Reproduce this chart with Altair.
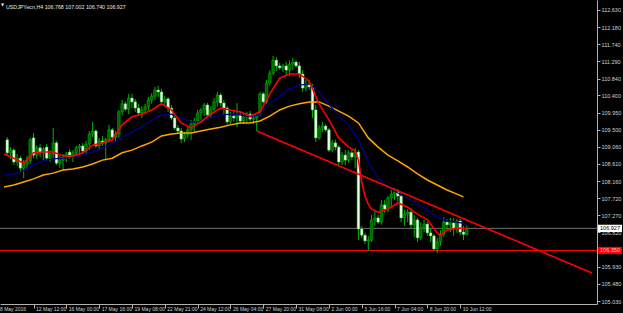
import json
import altair as alt
import pandas as pd

# ---------------- data ----------------
symbol = "USDJPYecn,H4"
bar_index = list(range(-8, 133))  # H4 bars; 0 = 12 May 12:00

opens = [109.24, 108.90, 108.97, 108.66, 108.76, 108.50, 108.61, 108.69,
         109.29, 108.84, 109.03, 108.90, 109.05, 108.76, 108.87, 109.16, 108.63, 108.71,
         108.79, 108.92, 108.79, 108.90, 109.03, 109.08, 108.95, 109.13, 109.39, 109.47,
         109.08, 109.21, 109.16, 109.24, 109.50, 109.31, 109.39, 109.97, 110.18, 110.04,
         110.33, 110.23, 110.07, 109.94, 110.02, 110.10, 110.28, 110.38, 110.54, 110.49,
         110.23, 110.31, 110.07, 109.81, 109.55, 109.47, 109.26, 109.37, 109.50, 109.65,
         109.73, 109.94, 110.02, 110.15, 109.89, 110.04, 110.23, 110.41, 110.20, 110.07,
         109.71, 109.86, 109.81, 109.89, 109.73, 109.84, 109.91, 109.78, 109.81, 109.91,
         110.44, 110.23, 110.72, 110.98, 111.32, 111.17, 111.12, 111.17, 111.06, 111.22,
         111.27, 111.17, 110.96, 110.59, 110.70, 110.62, 110.02, 109.29, 109.55, 109.60,
         109.50, 108.97, 109.16, 109.05, 108.66, 108.84, 108.71, 108.90, 108.79, 108.92,
         106.91, 106.75, 106.60, 106.62, 107.15, 107.20, 107.09, 107.54, 107.43, 107.72,
         107.82, 107.88, 107.77, 107.20, 107.30, 107.35, 107.02, 107.15, 106.68, 106.96,
         107.04, 106.81, 106.73, 106.39, 106.57, 106.78, 107.09, 107.02, 107.07, 106.91,
         107.12, 106.83, 106.768]
highs = [109.31, 109.05, 109.03, 108.87, 108.82, 108.71, 108.82, 109.29,
         109.42, 109.10, 109.13, 109.05, 109.13, 108.97, 109.55, 109.21, 108.82, 108.87,
         108.92, 109.00, 108.97, 109.08, 109.13, 109.16, 109.21, 109.47, 109.71, 109.52,
         109.29, 109.34, 109.29, 109.63, 109.55, 109.47, 110.02, 110.28, 110.25, 110.44,
         110.44, 110.31, 110.18, 110.12, 110.18, 110.36, 110.46, 110.62, 110.65, 110.57,
         110.38, 110.36, 110.15, 109.86, 109.63, 109.55, 109.44, 109.60, 109.76, 109.81,
         110.02, 110.07, 110.20, 110.20, 110.12, 110.33, 110.49, 110.46, 110.28, 110.12,
         109.97, 110.02, 110.20, 109.97, 109.91, 109.97, 109.99, 109.91, 109.89, 110.49,
         110.49, 110.80, 111.06, 111.43, 111.40, 111.25, 111.22, 111.27, 111.32, 111.38,
         111.32, 111.27, 111.06, 110.80, 110.80, 110.70, 110.15, 109.63, 109.71, 109.65,
         109.55, 109.24, 109.24, 109.10, 108.92, 108.97, 108.97, 108.97, 109.03, 108.97,
         106.99, 106.81, 106.73, 107.28, 107.41, 107.28, 107.67, 107.67, 107.77, 107.93,
         107.98, 107.95, 107.85, 107.41, 107.43, 107.46, 107.28, 107.20, 107.09, 107.15,
         107.09, 106.94, 106.78, 106.68, 106.88, 107.22, 107.17, 107.20, 107.20, 107.17,
         107.17, 106.99, 107.002]
lows = [108.82, 108.74, 108.58, 108.56, 108.40, 108.24, 108.45, 108.61,
        108.76, 108.74, 108.79, 108.71, 108.71, 108.66, 108.76, 108.58, 108.50, 108.45,
        108.66, 108.74, 108.66, 108.79, 108.84, 108.87, 108.87, 108.97, 109.31, 109.03,
        108.97, 109.08, 108.71, 109.18, 109.24, 109.21, 109.29, 109.89, 109.99, 109.91,
        110.07, 109.97, 109.86, 109.81, 109.91, 109.97, 110.18, 110.28, 110.36, 110.18,
        110.12, 109.97, 109.76, 109.50, 109.39, 109.16, 109.18, 109.29, 109.24, 109.42,
        109.65, 109.76, 109.86, 109.84, 109.81, 109.94, 110.10, 110.12, 109.91, 109.63,
        109.63, 109.71, 109.57, 109.65, 109.65, 109.68, 109.71, 109.65, 109.47, 109.86,
        110.18, 110.18, 110.65, 110.93, 111.04, 111.06, 111.01, 110.93, 110.91, 111.06,
        111.12, 110.85, 110.49, 110.51, 110.54, 109.81, 109.18, 109.24, 109.44, 109.44,
        108.92, 108.92, 108.97, 108.58, 108.58, 108.58, 108.63, 108.71, 108.50, 106.62,
        106.68, 106.52, 106.34, 106.57, 106.99, 107.04, 107.02, 107.33, 107.35, 107.46,
        107.67, 107.62, 107.09, 106.99, 107.09, 106.94, 106.70, 106.57, 106.62, 106.83,
        106.73, 106.57, 106.34, 106.28, 106.47, 106.70, 106.88, 106.83, 106.73, 106.81,
        106.75, 106.62, 106.740]
closes = [108.90, 108.97, 108.66, 108.76, 108.50, 108.61, 108.69, 109.24,
          108.84, 109.03, 108.90, 109.00, 108.76, 108.87, 109.16, 108.63, 108.71, 108.79,
          108.87, 108.79, 108.90, 109.03, 109.08, 108.95, 109.13, 109.39, 109.47, 109.08,
          109.21, 109.16, 109.24, 109.50, 109.31, 109.39, 109.97, 110.18, 110.04, 110.33,
          110.23, 110.07, 109.94, 110.02, 110.10, 110.28, 110.38, 110.54, 110.49, 110.23,
          110.31, 110.07, 109.81, 109.55, 109.47, 109.26, 109.37, 109.50, 109.65, 109.73,
          109.94, 110.02, 110.15, 109.89, 110.04, 110.23, 110.41, 110.20, 110.07, 109.71,
          109.86, 109.81, 109.89, 109.73, 109.84, 109.91, 109.78, 109.81, 109.91, 110.44,
          110.23, 110.72, 110.98, 111.32, 111.17, 111.12, 111.17, 111.06, 111.22, 111.27,
          111.17, 110.96, 110.59, 110.70, 110.62, 110.02, 109.29, 109.55, 109.60, 109.50,
          108.97, 109.16, 109.05, 108.66, 108.84, 108.71, 108.90, 108.79, 108.92, 106.91,
          106.75, 106.60, 106.62, 107.15, 107.20, 107.09, 107.54, 107.43, 107.72, 107.82,
          107.88, 107.77, 107.20, 107.30, 107.35, 107.02, 107.15, 106.68, 106.96, 107.04,
          106.81, 106.73, 106.39, 106.57, 106.78, 107.09, 107.02, 107.07, 106.91, 107.12,
          106.83, 106.77, 106.927]

red_idx = [-9, -6, -3, 0, 3, 6, 9, 12, 15, 18, 21, 24, 27, 30, 33, 36, 39, 42, 45, 48,
           51, 54, 57, 60, 63, 66, 69, 72, 75, 78, 81, 84, 87, 90, 93, 96, 98, 99, 100,
           101, 102, 103, 105, 108, 111, 114, 117, 120, 123, 124, 126, 129, 132]
red_val = [108.87, 108.76, 108.63, 108.90, 108.92, 108.92, 108.82, 108.82, 108.90, 109.10,
           109.16, 109.24, 109.63, 109.84, 109.91, 110.02, 110.18, 110.02, 109.68, 109.55,
           109.71, 109.91, 110.07, 110.02, 109.97, 109.86, 109.97, 110.44, 110.85, 110.96,
           110.96, 110.77, 110.18, 109.76, 109.29, 109.05, 108.95, 108.71, 108.14,
           107.77, 107.56, 107.43, 107.35, 107.43, 107.59, 107.48, 107.30, 107.15, 106.81,
           106.75, 106.88, 106.94, 106.91]
blue_idx = [-9, -6, -3, 0, 3, 6, 9, 12, 15, 18, 21, 24, 27, 30, 33, 36, 39, 42, 45, 48,
            51, 54, 57, 60, 63, 66, 69, 72, 75, 78, 81, 84, 87, 90, 93, 96, 99, 102, 105,
            108, 111, 114, 117, 120, 123, 126, 129, 132]
blue_val = [108.32, 108.35, 108.43, 108.58, 108.69, 108.74, 108.76, 108.79, 108.84, 108.92,
            109.03, 109.13, 109.31, 109.44, 109.57, 109.76, 109.89, 109.91, 109.81, 109.71,
            109.71, 109.81, 109.89, 109.91, 109.89, 109.84, 109.91, 110.18, 110.38, 110.57,
            110.67, 110.70, 110.49, 110.18, 109.86, 109.63, 109.24, 108.66, 108.24,
            108.01, 107.85, 107.72, 107.56, 107.41, 107.22, 107.12, 107.09, 107.04]
orange_idx = [-9, -6, -3, 0, 3, 6, 9, 12, 15, 18, 21, 24, 27, 30, 33, 36, 39, 42, 45, 48,
              51, 54, 57, 60, 63, 66, 69, 72, 75, 78, 81, 84, 87, 90, 93, 96, 99, 102, 105,
              108, 111, 114, 117, 120, 123, 126, 129, 131]
orange_val = [108.01, 108.06, 108.14, 108.22, 108.32, 108.37, 108.45, 108.48, 108.53, 108.61,
              108.71, 108.76, 108.90, 108.97, 109.08, 109.18, 109.34, 109.39, 109.42, 109.42,
              109.47, 109.52, 109.57, 109.63, 109.68, 109.68, 109.73, 109.86, 110.02, 110.12,
              110.18, 110.23, 110.23, 110.12, 109.99, 109.86, 109.68, 109.29, 109.05,
              108.84, 108.69, 108.53, 108.35, 108.19, 108.06, 107.93, 107.82, 107.75]

trend_idx = [68.0, 170.16]
trend_val = [109.47, 105.76]

bid_price = 106.927
hline_price = 106.350

price_ticks = [112.63, 112.18, 111.74, 111.29, 110.84, 110.40, 109.95, 109.50, 109.06,
               108.61, 108.16, 107.72, 107.27, 106.82, 106.38, 105.93, 105.48, 105.03]
time_tick_idx = [0, 10, 20, 30, 40, 50, 60, 70, 80, 90, 100, 110, 120, 130]
time_labels = ["12 May 12:00", "16 May 00:00", "17 May 16:00", "19 May 08:00",
               "22 May 21:00", "24 May 12:00", "26 May 04:00", "27 May 20:00",
               "31 May 08:00", "2 Jun 00:00", "3 Jun 16:00", "7 Jun 04:00",
               "8 Jun 20:00", "10 Jun 12:00"]
first_label = "8 May 2016"

# ---------------- chart ----------------
FONT = "Liberation Sans"
TXT = "#d0d0d0"
AX = "#b0b0b0"

xscale = alt.Scale(domain=[-8.69, 170.16], nice=False, zero=False)
yscale = alt.Scale(domain=[104.952, 112.891], nice=False, zero=False)

label_expr = json.dumps(time_labels) + "[round(datum.value/10)]"
xaxis = alt.Axis(values=time_tick_idx, labelExpr=label_expr, title=None, grid=False,
                 tickSize=4, labelAlign="left", labelOffset=2, labelBaseline="middle",
                 labelPadding=0.5, labelFontSize=5.0, labelFont=FONT, labelColor=TXT,
                 tickColor=AX, domainColor=AX, labelOverlap=False, labelFlush=False,
                 labelBound=False)
yaxis = alt.Axis(orient="right", values=price_ticks, format=".3f", title=None, grid=False,
                 tickSize=3, labelPadding=1, labelFontSize=5.5, labelFont=FONT,
                 labelColor=TXT, tickColor=AX, domainColor=AX, labelOverlap=False,
                 labelFlush=False, labelBound=False)


def X(field):
    return alt.X(field, type="quantitative", scale=xscale, axis=xaxis)


def Y(field):
    return alt.Y(field, type="quantitative", scale=yscale, axis=yaxis)


candles = pd.DataFrame({"k": bar_index, "o": opens, "h": highs, "l": lows, "c": closes})
candles["dir"] = ["bull" if c >= o else "bear" for o, c in zip(opens, closes)]

wicks = alt.Chart(candles).mark_rule(color="#00b400", strokeWidth=1, clip=True).encode(
    x=X("k"), y=Y("l"), y2="h")

bodies = alt.Chart(candles).mark_bar(width=2.6, strokeWidth=0.5, clip=True).encode(
    x=X("k"), y=Y("o"), y2="c",
    fill=alt.Fill("dir:N", scale=alt.Scale(domain=["bull", "bear"], range=["#006400", "#f0fff0"]), legend=None),
    stroke=alt.Stroke("dir:N", scale=alt.Scale(domain=["bull", "bear"], range=["#00c000", "#40d040"]), legend=None),
)


def ma_line(idx, vals, color, w):
    d = pd.DataFrame({"k": idx, "p": vals})
    return alt.Chart(d).mark_line(color=color, strokeWidth=w, clip=True).encode(x=X("k"), y=Y("p"))


orange = ma_line(orange_idx, orange_val, "#ffa500", 1.5)
blue = ma_line(blue_idx, blue_val, "#00008b", 1.3)
red = ma_line(red_idx, red_val, "#ff0000", 1.6)
trend = ma_line(trend_idx, trend_val, "#ff0000", 1.6)

levels = pd.DataFrame({"p": [bid_price, hline_price], "kind": ["bid", "line"]})
level_scale = alt.Scale(domain=["bid", "line"], range=["#707070", "#ff0000"])
hlines = alt.Chart(levels).mark_rule(strokeWidth=1).encode(
    y=Y("p"), color=alt.Color("kind:N", scale=level_scale, legend=None))

boxes = alt.Chart(levels).transform_calculate(
    top="datum.p + 0.095", bot="datum.p - 0.095"
).mark_rect(clip=False).encode(
    x=alt.value(598), x2=alt.value(622), y=Y("top"), y2="bot",
    color=alt.Color("kind:N", scale=alt.Scale(domain=["bid", "line"], range=["#ffffff", "#ff0000"]), legend=None))

levels["txt"] = [f"{v:.3f}" for v in levels["p"]]
box_text = alt.Chart(levels).mark_text(clip=False, align="center", baseline="middle",
                                       fontSize=5.5, font=FONT).encode(
    x=alt.value(610), y=Y("p"), text="txt:N",
    color=alt.Color("kind:N", scale=alt.Scale(domain=["bid", "line"], range=["#000000", "#ffc8c8"]), legend=None))

header = f"{symbol}  {opens[-1]:.3f} {highs[-1]:.3f} {lows[-1]:.3f} {closes[-1]:.3f}"
head = alt.Chart(pd.DataFrame({"t": [header]})).mark_text(
    align="left", baseline="middle", fontSize=5.3, font=FONT, color="#e8e8e8").encode(
    x=alt.value(6), y=alt.value(6.5), text="t:N")
tri = alt.Chart(pd.DataFrame({"t": ["▼"]})).mark_text(
    align="left", baseline="middle", fontSize=4, font="DejaVu Sans", color="#e8e8e8").encode(
    x=alt.value(1), y=alt.value(5), text="t:N")
first = alt.Chart(pd.DataFrame({"t": [first_label]})).mark_text(
    align="left", baseline="middle", fontSize=5.0, font=FONT, color=TXT, clip=False).encode(
    x=alt.value(0), y=alt.value(308.5), text="t:N")

chart = alt.layer(
    hlines, wicks, bodies, orange, blue, red, trend, boxes, box_text, head, tri, first
).resolve_scale(color="independent").properties(
    width=597, height=304, background="black",
    padding={"left": 0, "top": 0, "right": 26, "bottom": 9},
    autosize=alt.AutoSizeParams(type="none"),
).configure_view(stroke=None)

chart.save("out.html", embed_options={"renderer": "svg", "actions": False})
